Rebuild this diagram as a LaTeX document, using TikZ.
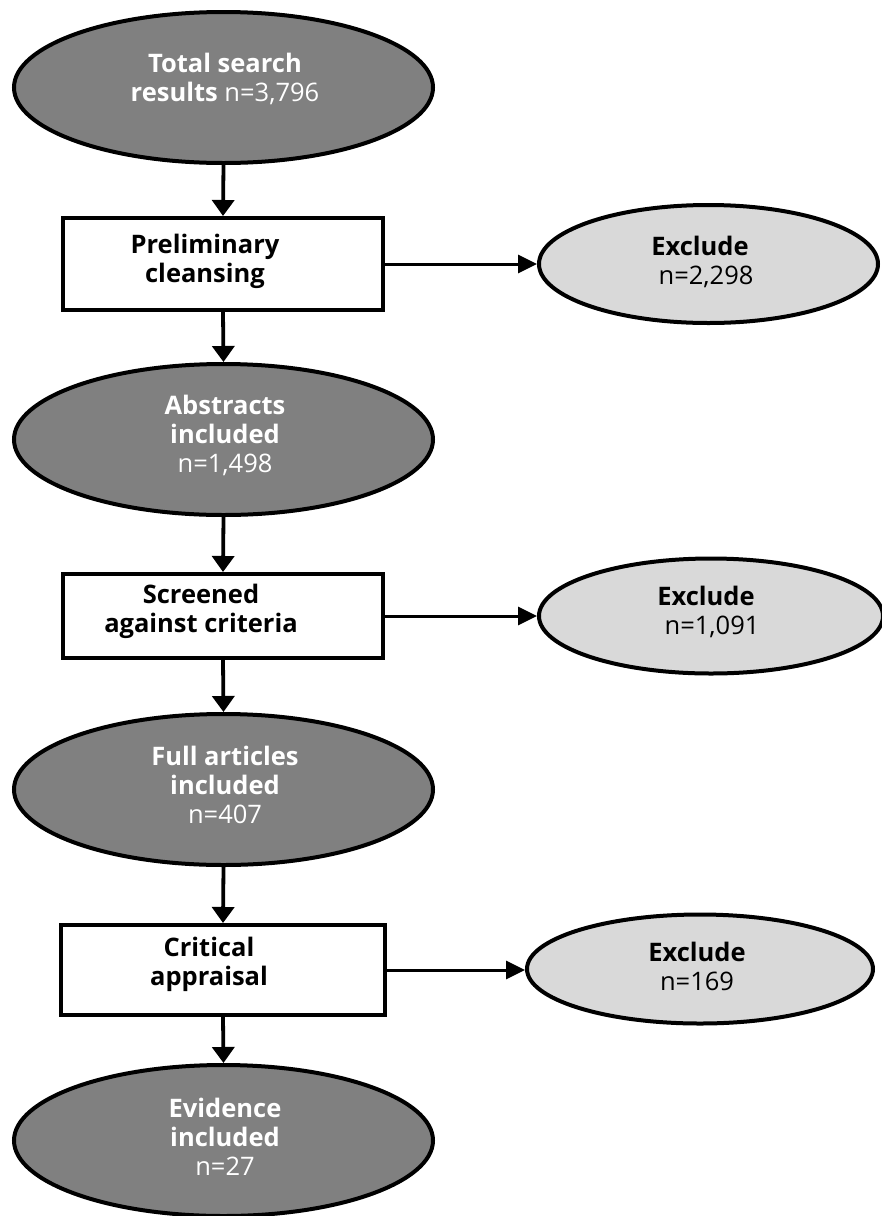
\documentclass[tikz,border=0pt]{standalone}
\usepackage{fontspec}
\setmainfont{Open Sans}
\usetikzlibrary{shapes.geometric,arrows.meta}
\definecolor{darkfill}{HTML}{808080}
\definecolor{lightfill}{HTML}{D9D9D9}
\tikzset{
  darkell/.style={ellipse, draw=black, line width=4pt, fill=darkfill, minimum width=419pt, minimum height=151pt, inner sep=0pt},
  lightell/.style={ellipse, draw=black, line width=4pt, fill=lightfill, inner sep=0pt},
  procbox/.style={rectangle, draw=black, line width=4pt, fill=white, inner sep=0pt},
  txt/.style={align=center, inner sep=0pt, font=\fontsize{25.5}{29}\selectfont},
  wtxt/.style={txt, text=white},
  vflow/.style={line width=3.8pt, -{Triangle[length=16pt,width=22pt]}},
  hflow/.style={line width=3pt, -{Triangle[length=19pt,width=18pt]}}
}
\begin{document}
\begin{tikzpicture}[x=1pt,y=-1pt]
\useasboundingbox (0,0) rectangle (882,1216);
% left column
\node[darkell] (e1) at (223.5,87.5) {};
\node[wtxt] (t1) at (225,79) {\textbf{Total search}\\\textbf{results} n=3,796};
\node[procbox, minimum width=320pt, minimum height=92pt] (b1) at (223,264) {};
\node[txt] (tb1) at (205,261) {\textbf{Preliminary}\\\textbf{cleansing}};
\node[darkell] (e2) at (223.5,439.5) {};
\node[wtxt] (t2) at (225,435) {\textbf{Abstracts}\\\textbf{included}\\n=1,498};
\node[procbox, minimum width=320pt, minimum height=84pt] (b2) at (223,616) {};
\node[txt] (tb2) at (201,611) {\textbf{Screened}\\\textbf{against criteria}};
\node[darkell] (e3) at (223.5,789.5) {};
\node[wtxt] (t3) at (225,785) {\textbf{Full articles}\\\textbf{included}\\n=407};
\node[procbox, minimum width=324pt, minimum height=90pt] (b3) at (223,970) {};
\node[txt] (tb3) at (209,964) {\textbf{Critical}\\\textbf{appraisal}};
\node[darkell] (e4) at (223.5,1140.5) {};
\node[wtxt] (t4) at (225,1137) {\textbf{Evidence}\\\textbf{included}\\n=27};
% exclusion ellipses
\node[lightell, minimum width=339pt, minimum height=118pt] (x1) at (708.5,264) {};
\node[txt] (tx1) at (700,262) {\textbf{Exclude}\\\hspace*{12pt}n=2,298};
\node[lightell, minimum width=344pt, minimum height=115pt] (x2) at (711,616) {};
\node[txt] (tx2) at (706,612) {\textbf{Exclude}\\\hspace*{12pt}n=1,091};
\node[lightell, minimum width=346pt, minimum height=109pt] (x3) at (700,969) {};
\node[txt] (tx3) at (697,966) {\textbf{Exclude}\\n=169};
% connectors
\draw[vflow] (e1.south) -- (b1.north);
\draw[vflow] (b1.south) -- (e2.north);
\draw[vflow] (e2.south) -- (b2.north);
\draw[vflow] (b2.south) -- (e3.north);
\draw[vflow] (e3.south) -- (b3.north);
\draw[vflow] (b3.south) -- (e4.north);
\draw[hflow] (b1.east) -- (b1.east -| x1.west);
\draw[hflow] (b2.east) -- (b2.east -| x2.west);
\draw[hflow] (b3.east) -- (b3.east -| x3.west);
\end{tikzpicture}
\end{document}
